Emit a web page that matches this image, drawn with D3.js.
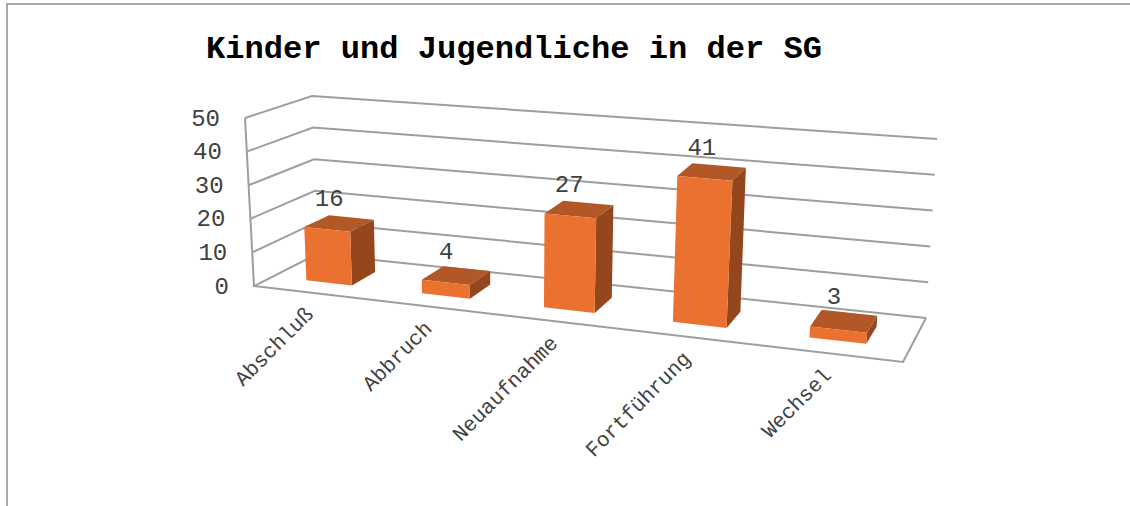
<!DOCTYPE html>
<html>
<head>
<meta charset="utf-8">
<script src="https://cdn.jsdelivr.net/npm/d3@7"></script>
<style>
  body { margin: 0; background: white; }
  svg { display: block; }
  text { font-family: "Liberation Mono", monospace; }
</style>
</head>
<body>
<div id="container"></div>
<script>
let w = 1130;
let h = 506;

let title = "Kinder und Jugendliche in der SG";
let categories = ["Abschluß", "Abbruch", "Neuaufnahme", "Fortführung", "Wechsel"];
let values = [16, 4, 27, 41, 3];
let yTicks = [0, 10, 20, 30, 40, 50];

// corners of the 3d box on screen: [front/back][left/right][floor/top]
let box = {
  frontLeft:  { floor: [254, 286], top: [245, 118] },
  frontRight: { floor: [903, 362], top: [917, 174] },
  backLeft:   { floor: [317, 254], top: [312, 96] },
  backRight:  { floor: [926, 318], top: [937, 139] }
};

let viz = d3.select("#container").append("svg")
    .attr("width", w)
    .attr("height", h)
;

// scales work in box units 0..1, project() turns them into pixels
let xScale = d3.scaleBand().domain(categories).range([0, 1]).paddingInner(0.6).paddingOuter(0.3);
let yScale = d3.scaleLinear().domain([0, 50]).range([0, 1]);
let barDepth = [0.3, 0.7];

// bands get a little narrower towards the left, the chart is seen at an angle
function warp(u){
  return u / (1 + 0.15 * (1 - u));
}

function lerp(a, b, t){
  return [a[0] + (b[0] - a[0]) * t, a[1] + (b[1] - a[1]) * t];
}

function project(u, v, d){
  let uw = warp(u);
  let floor = lerp(
    lerp(box.frontLeft.floor, box.frontRight.floor, uw),
    lerp(box.backLeft.floor, box.backRight.floor, uw), d);
  let top = lerp(
    lerp(box.frontLeft.top, box.frontRight.top, uw),
    lerp(box.backLeft.top, box.backRight.top, uw), d);
  return lerp(floor, top, v);
}

let line = d3.line();
let gridColor = "#9e9e9e";

// gridlines: side wall then back wall
let gridGroup = viz.append("g").attr("class", "gridgroup")
    .attr("fill", "none")
    .attr("stroke", gridColor)
    .attr("stroke-width", 2);

gridGroup.selectAll(".grid").data(yTicks).enter()
  .append("path")
    .attr("class", "grid")
    .attr("d", d => line([
      project(0, yScale(d), 0),
      project(0, yScale(d), 1),
      project(1, yScale(d), 1)
    ]))
;
// left edge and floor outline
gridGroup.append("path").attr("d", line([project(0, 1, 0), project(0, 0, 0), project(1, 0, 0), project(1, 0, 1)]));

// bars
let faces = [
  { fill: "#b25826", corners: (a, b, v) => [[a, v, barDepth[0]], [b, v, barDepth[0]], [b, v, barDepth[1]], [a, v, barDepth[1]]] },
  { fill: "#94461d", corners: (a, b, v) => [[b, 0, barDepth[0]], [b, 0, barDepth[1]], [b, v, barDepth[1]], [b, v, barDepth[0]]] },
  { fill: "#ea7130", corners: (a, b, v) => [[a, 0, barDepth[0]], [b, 0, barDepth[0]], [b, v, barDepth[0]], [a, v, barDepth[0]]] }
];

let barGroups = viz.selectAll(".bar").data(categories).enter()
  .append("g")
    .attr("class", "bar")
;

faces.forEach(function(face){
  barGroups.append("path")
    .attr("fill", face.fill)
    .attr("d", function(d, i){
      let a = xScale(d);
      let b = a + xScale.bandwidth();
      let pts = face.corners(a, b, yScale(values[i])).map(p => project(p[0], p[1], p[2]));
      return line(pts) + "Z";
    })
  ;
});

// data labels
barGroups.append("text")
    .attr("text-anchor", "middle")
    .attr("font-size", 24)
    .attr("fill", "#404040")
    .attr("transform", function(d, i){
      let p = project(xScale(d) + xScale.bandwidth() / 2, yScale(values[i]), 0.5);
      return "translate(" + (p[0] - 10) + "," + (p[1] - 17) + ")";
    })
    .text((d, i) => values[i])
;

// value axis labels
viz.selectAll(".ytick").data(yTicks).enter()
  .append("text")
    .attr("class", "ytick")
    .attr("text-anchor", "end")
    .attr("dominant-baseline", "central")
    .attr("font-size", 24)
    .attr("fill", "#404040")
    .attr("x", d => project(0, yScale(d), 0)[0] - 25)
    .attr("y", d => project(0, yScale(d), 0)[1] + 1)
    .text(d => d)
;

// category labels
viz.selectAll(".xlabel").data(categories).enter()
  .append("text")
    .attr("class", "xlabel")
    .attr("text-anchor", "end")
    .attr("font-size", 21)
    .attr("fill", "#404040")
    .attr("transform", function(d){
      let p = project(xScale(d) + xScale.bandwidth() / 2, 0, 0);
      return "translate(" + (p[0] + 3) + "," + (p[1] + 23) + ") rotate(-45)";
    })
    .text(d => d)
;

// title
viz.append("text")
    .attr("x", 206)
    .attr("y", 58)
    .attr("font-size", 32.1)
    .attr("font-weight", "bold")
    .attr("fill", "black")
    .text(title)
;

// chart frame, only top and left are in the picture
viz.append("path")
    .attr("d", line([[7, h], [7, 4], [w, 4]]))
    .attr("fill", "none")
    .attr("stroke", "#8c8c8c")
    .attr("stroke-width", 1.5)
;
</script>
</body>
</html>
